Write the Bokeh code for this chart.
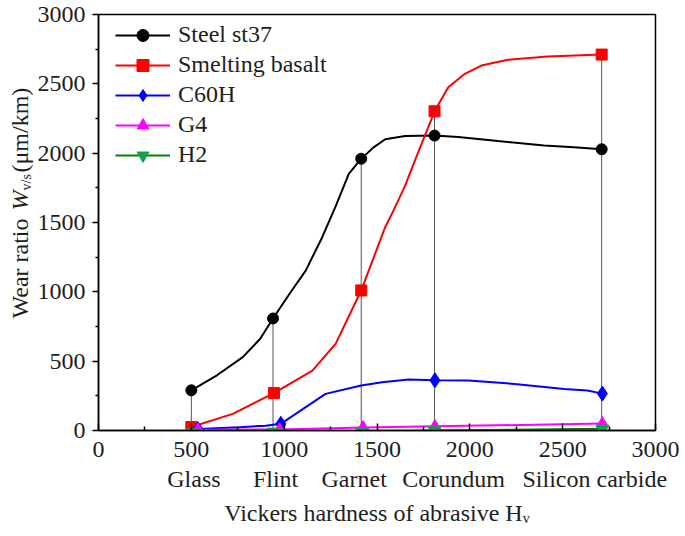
import numpy as np
from bokeh.plotting import figure
from bokeh.layouts import row
from bokeh.models import Legend, LegendItem, FixedTicker, Range1d, LinearAxis
from bokeh.core.properties import value
from bokeh.embed import file_html
from bokeh.resources import INLINE

# ---------------- data ----------------
categories = ["Glass", "Flint", "Garnet", "Corundum", "Silicon carbide"]

steel_x = [500, 940, 1415, 1810, 2710]
steel_y = [290, 808, 1960, 2127, 2028]
steel_curve_x = [500, 640, 777, 870, 940, 1030, 1116, 1205, 1280, 1348, 1415,
                 1480, 1544, 1652, 1810, 1937, 2152, 2400, 2561, 2710]
steel_curve_y = [290, 400, 529, 660, 808, 988, 1153, 1394, 1625, 1851, 1960,
                 2040, 2100, 2123, 2127, 2116, 2087, 2055, 2043, 2028]

basalt_x = [500, 945, 1415, 1810, 2710]
basalt_y = [25, 270, 1010, 2302, 2711]
basalt_curve_x = [500, 723, 945, 1152, 1277, 1415, 1544, 1580, 1650, 1705,
                  1810, 1884, 1973, 2062, 2205, 2419, 2710]
basalt_curve_y = [25, 120, 270, 432, 625, 1010, 1466, 1562, 1760, 1950,
                  2302, 2475, 2572, 2632, 2673, 2697, 2711]

c60h_x = [535, 982, 1812, 2714]
c60h_y = [10, 48, 362, 266]
c60h_curve_x = [535, 759, 900, 982, 1116, 1223, 1415, 1527, 1670, 1812,
                1991, 2241, 2508, 2633, 2714]
c60h_curve_y = [10, 24, 35, 48, 168, 264, 324, 348, 368, 362,
                360, 336, 300, 288, 266]

g4_x = [535, 975, 1425, 1812, 2714]
g4_y = [5, 8, 22, 30, 50]

h2_x = [505, 945, 1420, 1810, 2714]
h2_y = [-15, -10, -10, 0, 12]

x_ticks = [0, 500, 1000, 1500, 2000, 2500, 3000]
y_ticks = [0, 500, 1000, 1500, 2000, 2500, 3000]

FONT = "Liberation Serif"
TXT = "#1e1e1e"

# ---------------- layout geometry (page pixels) ----------------
PW, PH = 685, 536
FL, FR, FT, FB = 95, 655, 14, 430      # plot frame edges
YW = 34                                # width of the y-title strip
FW, FH = FR - FL, FB - FT


def dx(px):  # page x pixel -> data x
    return (px - FL) / FW * 3000


def dy(py):  # page y pixel -> data y
    return (FB - py) / FH * 3000


# ---------------- main figure ----------------
p = figure(width=PW - YW, height=PH, x_range=(0, 3000), y_range=(0, 3000),
           output_backend="svg", toolbar_location=None,
           min_border_left=FL - YW, min_border_right=PW - FR,
           min_border_top=FT, min_border_bottom=PH - FB)
p.background_fill_color = "white"
p.border_fill_color = "white"
p.outline_line_color = "black"
p.outline_line_width = 1.5
p.xgrid.visible = False
p.ygrid.visible = False

for ax in (p.xaxis[0], p.yaxis[0]):
    ax.axis_line_color = "black"
    ax.axis_line_width = 1.5
    ax.major_tick_line_color = "black"
    ax.minor_tick_line_color = "black"
    ax.major_tick_line_width = 1.5
    ax.minor_tick_line_width = 1.5
    ax.major_label_text_font = FONT
    ax.major_label_text_font_size = "24px"
    ax.major_label_text_color = TXT

p.xaxis.ticker = FixedTicker(ticks=x_ticks, minor_ticks=[t + 250 for t in x_ticks[:-1]])
p.yaxis.ticker = FixedTicker(ticks=y_ticks, minor_ticks=[t + 250 for t in y_ticks[:-1]])
p.xaxis.major_tick_in = 7
p.xaxis.major_tick_out = 0
p.xaxis.minor_tick_in = 4
p.xaxis.minor_tick_out = 0
p.xaxis.major_label_standoff = 11
p.yaxis.major_tick_in = 0
p.yaxis.major_tick_out = 6
p.yaxis.minor_tick_in = 0
p.yaxis.minor_tick_out = 3
p.yaxis.major_label_standoff = 7

# second axis below: abrasive names and the x-axis title
cat_label_x = [round(dx(px)) for px in (191, 273, 352, 452, 594)]   # label placement
cat_axis = LinearAxis(ticker=FixedTicker(ticks=cat_label_x),
                      major_label_overrides={x: c for x, c in zip(cat_label_x, categories)})
cat_axis.axis_line_color = None
cat_axis.major_tick_line_color = None
cat_axis.minor_tick_line_color = None
cat_axis.major_tick_out = 0
cat_axis.major_tick_in = 0
cat_axis.major_label_standoff = 6
cat_axis.major_label_text_font = FONT
cat_axis.major_label_text_font_size = "24px"
cat_axis.major_label_text_color = TXT
cat_axis.axis_label = "Vickers hardness of abrasive H\u1d65"
cat_axis.axis_label_standoff = 5
cat_axis.axis_label_text_font = FONT
cat_axis.axis_label_text_font_size = "24px"
cat_axis.axis_label_text_font_style = "normal"
cat_axis.axis_label_text_color = TXT
p.add_layout(cat_axis, "below")

# vertical guide lines from 0 up to the highest point of each abrasive
top = np.maximum(np.array(steel_y), np.array(basalt_y))
p.segment(x0=steel_x, y0=[0] * len(steel_x), x1=steel_x, y1=top,
          line_color="#555555", line_width=1)

l1 = p.line(steel_curve_x, steel_curve_y, line_color="black", line_width=2)
m1 = p.scatter(steel_x, steel_y, marker="circle", size=11, color="black")
l2 = p.line(basalt_curve_x, basalt_curve_y, line_color="#ff0000", line_width=2)
m2 = p.scatter(basalt_x, basalt_y, marker="square", size=11, color="#ff0000")
l3 = p.line(c60h_curve_x, c60h_curve_y, line_color="#0000ff", line_width=2)
m3 = p.scatter(c60h_x, c60h_y, marker="diamond", size=15, color="#0000ff")
l4 = p.line(g4_x, g4_y, line_color="#ff00ff", line_width=2)
m4 = p.scatter(g4_x, g4_y, marker="triangle", size=12, color="#ff00ff")
l5 = p.line(h2_x, h2_y, line_color="#008000", line_width=2)
m5 = p.scatter(h2_x, h2_y, marker="inverted_triangle", size=13, color="#12a04a")

names = ["Steel st37", "Smelting basalt", "C60H", "G4", "H2"]
items = [LegendItem(label=n, renderers=r) for n, r in
         zip(names, [[l1, m1], [l2, m2], [l3, m3], [l4, m4], [l5, m5]])]
legend = Legend(items=items, location=(17, FH - 3 - 5 * 30.5))
legend.margin = 0
legend.padding = 0
legend.spacing = 0
legend.glyph_width = 55
legend.glyph_height = 30
legend.label_height = 30
legend.label_standoff = 8
legend.label_text_font = FONT
legend.label_text_font_size = "24px"
legend.label_text_color = TXT
legend.background_fill_alpha = 0
legend.border_line_alpha = 0
p.add_layout(legend)

# ---------------- strip at left: rotated y title ----------------
yf = figure(width=YW, height=PH, x_range=Range1d(0, YW), y_range=p.y_range,
            output_backend="svg", toolbar_location=None,
            x_axis_location=None, y_axis_location=None,
            min_border_left=0, min_border_right=0,
            min_border_top=FT, min_border_bottom=PH - FB)
yf.outline_line_color = None
yf.xgrid.visible = False
yf.ygrid.visible = False
yf.background_fill_color = "white"
yf.border_fill_color = "white"

ang = np.pi / 2
ylab = [("Wear ratio ", 318, 19, "24px", "normal"),
        ("W", 210, 19, "24px", "italic"),
        ("v/s", 190, 25.5, "14px", "normal"),
        ("(\u03bcm/km)", 172, 19, "24px", "normal")]
for txt, py, px, fs, st in ylab:
    yf.text(x=[px], y=[dy(py)], text=[txt], angle=ang, text_align="left",
            text_baseline="middle", text_font=value(FONT), text_font_size=fs,
            text_font_style=st, text_color=TXT)

layout = row(yf, p)
open("out.html", "w").write(file_html(layout, INLINE))
